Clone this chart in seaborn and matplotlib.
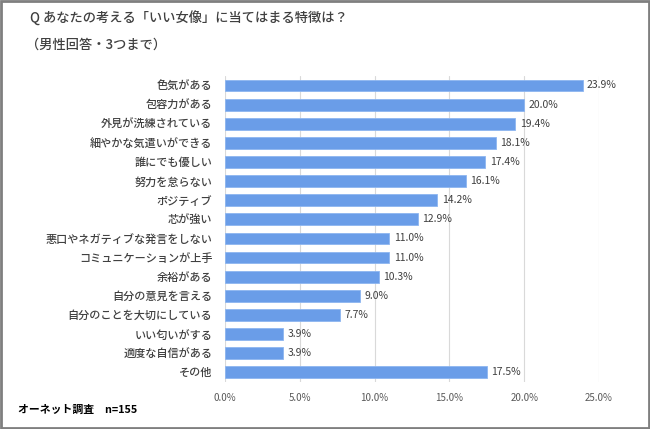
import matplotlib
matplotlib.use("Agg")
import matplotlib.pyplot as plt
import matplotlib.patches as mpatches
from matplotlib.ticker import FuncFormatter
import pandas as pd
import seaborn as sns

# --- DATA ---
categories = [
    "色気がある", "包容力がある", "外見が洗練されている", "細やかな気遣いができる",
    "誰にでも優しい", "努力を怠らない", "ポジティブ", "芯が強い",
    "悪口やネガティブな発言をしない", "コミュニケーションが上手", "余裕がある",
    "自分の意見を言える", "自分のことを大切にしている", "いい匂いがする",
    "適度な自信がある", "その他",
]
values = [23.9, 20.0, 19.4, 18.1, 17.4, 16.1, 14.2, 12.9,
          11.0, 11.0, 10.3, 9.0, 7.7, 3.9, 3.9, 17.5]
x_ticks = [0, 5, 10, 15, 20, 25]

title_line1 = "Q あなたの考える「いい女像」に当てはまる特徴は？"
title_line2 = "（男性回答・3つまで）"
footer = "オーネット調査　n=155"

# --- STYLE ---
sns.set_style("white")
plt.rcParams["font.family"] = ["Noto Sans CJK JP", "DejaVu Sans"]
BAR = "#6a9de8"
TEXT = "#404040"

df = pd.DataFrame({"item": categories, "pct": values})

fig = plt.figure(figsize=(6.5, 4.29), dpi=100)
ax = fig.add_axes([0.346, 0.110, 0.5755, 0.713])

sns.barplot(data=df, y="item", x="pct", orient="h", color=BAR,
            width=0.62, edgecolor="#8db6f0", linewidth=0.6, saturation=1, ax=ax)

ax.set_xlim(0, 25)
ax.set_ylim(len(categories) - 0.5, -0.5)
ax.set_xticks(x_ticks)
ax.xaxis.set_major_formatter(FuncFormatter(lambda v, p: f"{v:.1f}%"))
ax.grid(axis="x", color="#d9d9d9", linewidth=0.8)
ax.set_axisbelow(True)
for s in ax.spines.values():
    s.set_visible(False)
ax.set_xlabel("")
ax.set_ylabel("")
ax.tick_params(axis="x", length=0, labelsize=7, labelcolor="#595959", pad=8)
ax.tick_params(axis="y", length=0, labelsize=8, labelcolor=TEXT, pad=9)
for lab in ax.get_yticklabels():
    lab.set_fontweight("medium")

for i, v in enumerate(values):
    ax.text(v + 0.3, i, f"{v:.1f}%", va="center", ha="left",
            fontsize=7.5, color=TEXT)

fig.text(0.046, 0.958, title_line1, fontsize=9.5, color="#404040", va="center", fontweight="medium")
fig.text(0.040, 0.895, title_line2, fontsize=9.5, color="#404040", va="center", fontweight="medium")
fig.text(0.028, 0.045, footer, fontsize=7.8, fontweight="bold", color="black", va="center")

fig.patches.append(mpatches.Rectangle((0.002, 0.003), 0.996, 0.994, transform=fig.transFigure,
                                      fill=False, edgecolor="#7f7f7f", linewidth=2))

fig.savefig("out.png", dpi=100)
